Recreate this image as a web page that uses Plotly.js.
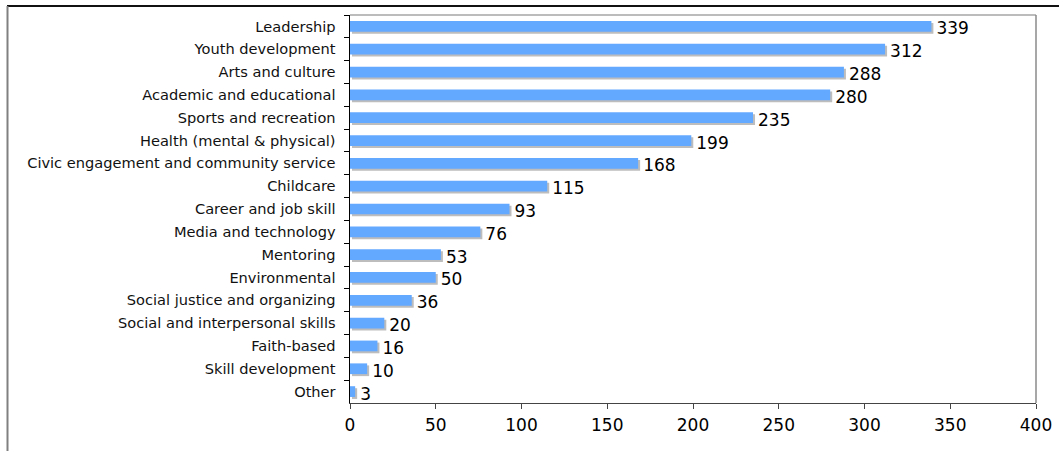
<!DOCTYPE html>
<html>
<head>
<meta charset="utf-8">
<script src="https://cdn.plot.ly/plotly-3.0.1.min.js"></script>
<style>html,body{margin:0;padding:0;background:#fff;}#chart{width:1059px;height:451px;}</style>
</head>
<body>
<div id="chart"></div>
<script>
const categories = [
  "Leadership",
  "Youth development",
  "Arts and culture",
  "Academic and educational",
  "Sports and recreation",
  "Health (mental & physical)",
  "Civic engagement and community service",
  "Childcare",
  "Career and job skill",
  "Media and technology",
  "Mentoring",
  "Environmental",
  "Social justice and organizing",
  "Social and interpersonal skills",
  "Faith-based",
  "Skill development",
  "Other"
];
const counts = [339, 312, 288, 280, 235, 199, 168, 115, 93, 76, 53, 50, 36, 20, 16, 10, 3];
const xTicks = [0, 50, 100, 150, 200, 250, 300, 350, 400];

const W = 1059, H = 451;
const M = {l: 350, r: 23, t: 15, b: 48};
const plotW = W - M.l - M.r, plotH = H - M.t - M.b;
const xMax = 400;
const pxPerUnit = plotW / xMax;
const catPx = plotH / categories.length;
const barW = 0.47;
const shadowDx = 2 / pxPerUnit;   // 2 px to the right
const shadowDy = 2 / catPx;       // 2 px downward
const font = "Verdana, 'DejaVu Sans', sans-serif";

const shadow = {
  type: 'bar', orientation: 'h',
  y: categories, x: counts,
  base: shadowDx,
  width: barW, offset: -barW / 2 + shadowDy,
  marker: {color: '#bdbdbd', line: {width: 0}},
  text: counts.map(String), textposition: 'outside',
  constraintext: 'none',
  textfont: {family: font, size: 17, color: '#000'},
  cliponaxis: false,
  hoverinfo: 'skip', showlegend: false
};
const main = {
  type: 'bar', orientation: 'h',
  y: categories, x: counts,
  width: barW, offset: -barW / 2,
  marker: {color: '#63a9ff', line: {width: 0}},
  hoverinfo: 'x+y', showlegend: false
};

const pxX = px => (px - M.l) / plotW;
const pxY = py => (H - M.b - py) / plotH;

const layout = {
  width: W, height: H,
  margin: M,
  paper_bgcolor: '#fff', plot_bgcolor: '#fff',
  barmode: 'overlay',
  font: {family: font, color: '#000'},
  xaxis: {
    range: [0, xMax], fixedrange: true,
    tickvals: xTicks, ticktext: xTicks.map(String),
    ticks: 'outside', ticklen: 5, tickcolor: '#444', tickwidth: 1,
    ticklabelstandoff: 2,
    showline: true, linecolor: '#444', linewidth: 1,
    showgrid: false, zeroline: false,
    tickfont: {family: font, size: 17, color: '#000'}
  },
  yaxis: {
    type: 'category', autorange: 'reversed', fixedrange: true,
    ticks: 'outside', ticklen: 5, tickcolor: '#000', tickwidth: 1,
    tickson: 'boundaries',
    ticklabelstandoff: 10,
    showline: true, linecolor: '#000', linewidth: 1.5,
    showgrid: false, zeroline: false,
    tickfont: {family: font, size: 14.6, color: '#111'}
  },
  shapes: [
    // plot area top and right borders
    {type: 'line', xref: 'paper', yref: 'paper', x0: 0, x1: 1, y0: 1, y1: 1,
     line: {color: '#bcbcbc', width: 2}},
    {type: 'line', xref: 'paper', yref: 'paper', x0: 1, x1: 1, y0: 0, y1: 1,
     line: {color: '#8a8a8a', width: 1.5}},
    // outer chart frame
    {type: 'line', xref: 'paper', yref: 'paper', x0: pxX(7), x1: pxX(W + 2), y0: pxY(6), y1: pxY(6),
     line: {color: '#111', width: 2}},
    {type: 'line', xref: 'paper', yref: 'paper', x0: pxX(7.5), x1: pxX(7.5), y0: pxY(6), y1: pxY(H + 2),
     line: {color: '#808080', width: 2}}
  ]
};

Plotly.newPlot('chart', [shadow, main], layout, {displayModeBar: false, staticPlot: true});
</script>
</body>
</html>
